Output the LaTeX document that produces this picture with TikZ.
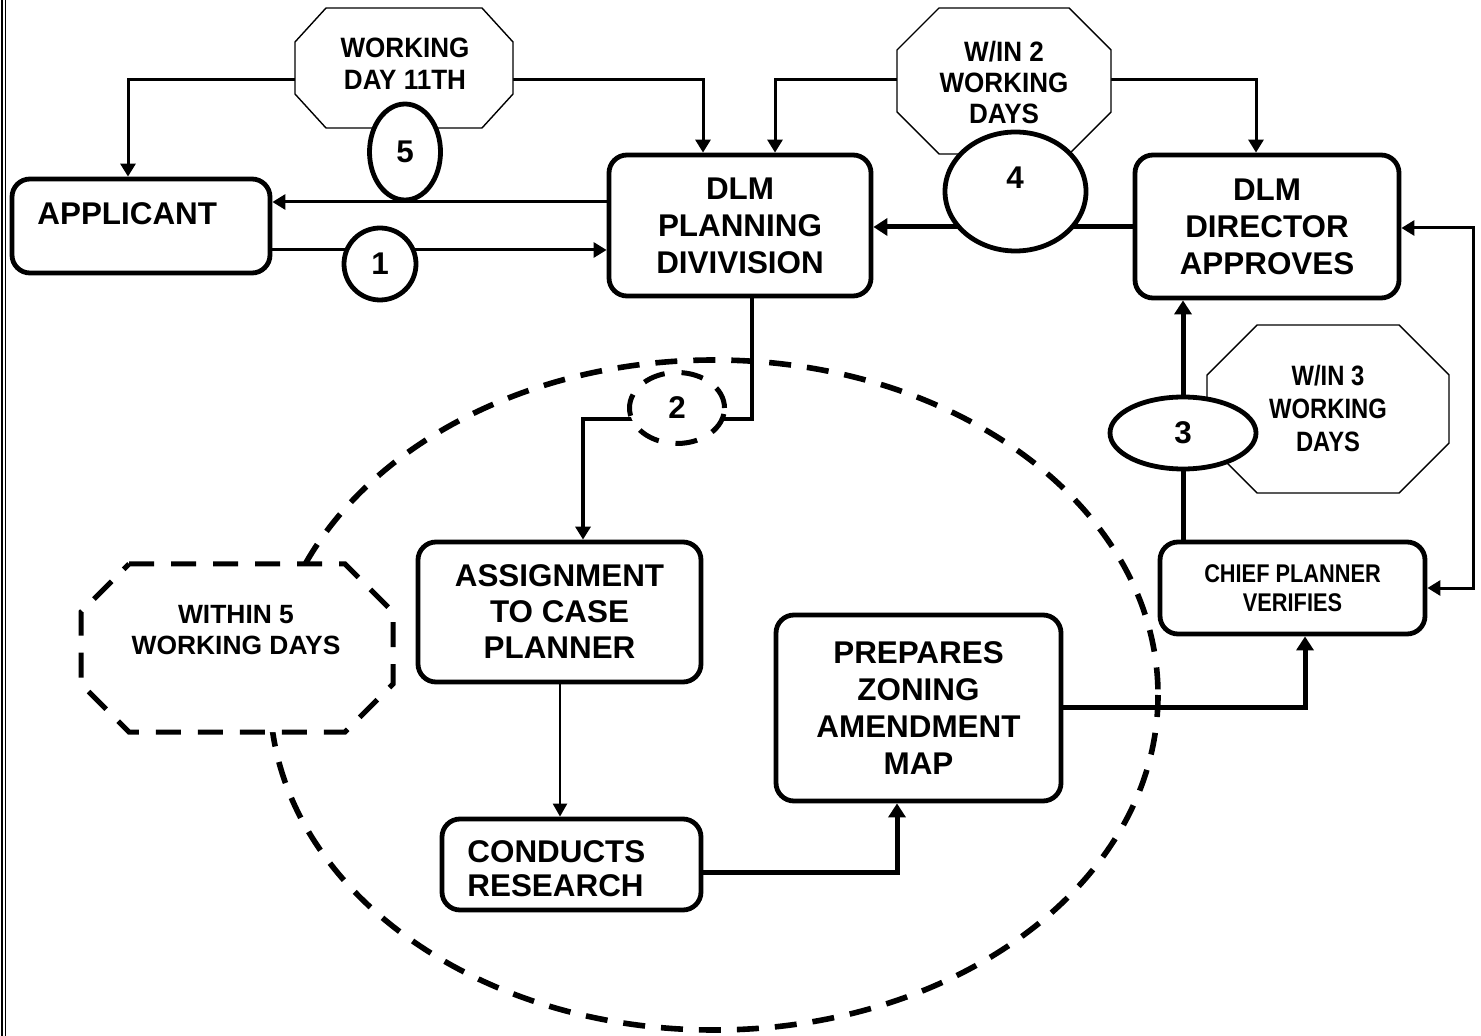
\documentclass[tikz,border=0pt]{standalone}
\usepackage{fontspec}
\setmainfont{Liberation Sans}
\newfontfamily\condA[FakeStretch=0.85]{Liberation Sans}
\newfontfamily\condB[FakeStretch=0.93]{Liberation Sans}
\usetikzlibrary{shapes.geometric,arrows.meta,backgrounds}
\begin{document}
\begin{tikzpicture}[x=0.5pt,y=-0.5pt,
  bigfont/.style={font=\bfseries\fontsize{15.7}{18.5}\selectfont},
  box/.style={draw, line width=2.4pt, rounded corners=9pt, fill=white, inner sep=0pt, align=center, bigfont},
  num/.style={draw, ellipse, line width=2.4pt, fill=white, inner sep=0pt, font=\bfseries\fontsize{15.7}{18}\selectfont},
  oct/.style={draw, line width=0.7pt, fill=white, line join=miter},
  octtext/.style={align=center, inner sep=0pt},
  conn/.style={line width=1.5pt, line join=miter, -{Triangle[length=6.5pt,width=7.5pt]}},
  connB/.style={line width=2.5pt, line join=miter, -{Triangle[length=7pt,width=8.5pt]}},
  connT/.style={line width=1.2pt, -{Triangle[length=6.5pt,width=7pt]}},
  bigdash/.style={line width=2.8pt, dash pattern=on 11pt off 8pt}
]
\useasboundingbox (0,0) rectangle (1481,1036);

% scan border lines at the left edge
\draw[line width=1.2pt] (2,0) -- (2,1036);
\draw[line width=0.5pt] (5.5,0) -- (5.5,1036);

% big dashed ellipse
\draw[bigdash] (714,695) ellipse [x radius=444, y radius=335];

% octagons
\draw[oct] (326,8) -- (482,8) -- (513,42) -- (513,94) -- (482,128) -- (326,128) -- (295,94) -- (295,42) -- cycle;
\draw[oct] (939,8) -- (1069,8) -- (1111,50) -- (1111,112) -- (1069,154) -- (939,154) -- (897,112) -- (897,50) -- cycle;
\draw[oct] (1257,325) -- (1399,325) -- (1449,375) -- (1449,443) -- (1399,493) -- (1257,493) -- (1207,443) -- (1207,375) -- cycle;
\draw[line width=2.5pt, dash pattern=on 12.5pt off 8.5pt, fill=white, line join=miter]
  (129,564) -- (345,564) -- (393,612) -- (393,684) -- (345,732) -- (129,732) -- (81,684) -- (81,612) -- cycle;

\coordinate (o1w) at (295,80);
\coordinate (o1e) at (513,80);
\coordinate (o2w) at (897,80);
\coordinate (o2e) at (1111,80);

\node[octtext, font=\condB\bfseries\fontsize{14}{16}\selectfont] (to1) at (405,64) {WORKING\\DAY 11TH};
\node[octtext, font=\condB\bfseries\fontsize{14}{15.5}\selectfont] (to2) at (1004,83) {W/IN 2\\WORKING\\DAYS};
\node[octtext, font=\condA\bfseries\fontsize{14}{16.5}\selectfont] (to3) at (1328,408.5) {W/IN 3\\WORKING\\DAYS};
\node[octtext, font=\bfseries\fontsize{13.2}{15.5}\selectfont] (to4) at (236,630) {WITHIN 5\\WORKING DAYS};

% boxes
\node[box, minimum width=129pt, minimum height=47pt] (applicant) at (141,226) {};
\node[bigfont, anchor=base west, inner sep=0pt] (tapplicant) at (37,225) {APPLICANT};
\node[box, minimum width=131pt, minimum height=70.5pt] (planning) at (740,225.5) {DLM\\PLANNING\\DIVIVISION};
\node[box, minimum width=132pt, minimum height=71.5pt] (director) at (1267,226.5) {DLM\\DIRECTOR\\APPROVES};
\node[box, minimum width=132.5pt, minimum height=46pt, font=\condA\bfseries\fontsize{12.8}{14.5}\selectfont] (chief) at (1292.5,588) {CHIEF PLANNER\\VERIFIES};
\node[box, minimum width=141.5pt, minimum height=70pt, font=\bfseries\fontsize{15.7}{18}\selectfont] (assignment) at (559.5,612) {ASSIGNMENT\\TO CASE\\PLANNER};
\node[box, minimum width=129.5pt, minimum height=45.5pt] (conducts) at (571.5,864.5) {};
\node[anchor=west, inner sep=0pt, align=left, font=\bfseries\fontsize{15.7}{17}\selectfont] (tconducts) at (467,868.5) {CONDUCTS\\RESEARCH};
\node[box, minimum width=142.5pt, minimum height=93pt] (prepares) at (918.5,708) {PREPARES\\ZONING\\AMENDMENT\\MAP};

% numbered ellipses
\node[num, minimum width=35.5pt, minimum height=48pt] (n5) at (405,152) {5};
\node[num, minimum width=36pt, minimum height=36pt] (n1) at (380,264) {1};
\node[num, minimum width=70.5pt, minimum height=59.5pt] (n4) at (1015.5,191.5) {};
\node[bigfont, inner sep=0pt] (t4) at (1015,178) {4};
\node[num, minimum width=73pt, minimum height=36pt] (n3) at (1183,433) {3};
\node[num, minimum width=47.5pt, minimum height=35.5pt, line width=2.5pt, dash pattern=on 11pt off 8.5pt] (n2) at (677,408) {2};

% connectors
\begin{pgfonlayer}{background}
\coordinate (b1) at (128,80);
\coordinate (b2) at (703,80);
\coordinate (b3) at (775,80);
\coordinate (b4) at (1256,80);
\coordinate (y202) at (0,202);
\coordinate (y250) at (0,250);
\coordinate (y227) at (0,227);
\coordinate (y228) at (0,228);
\coordinate (b6) at (1473,228);
\coordinate (b7) at (1473,588);
\coordinate (y707) at (0,707);
\coordinate (b8) at (1305,707);
\coordinate (y872) at (0,872);
\coordinate (b9) at (897,872);
\coordinate (b10) at (560,0);
\coordinate (b11) at (752,419);
\coordinate (b12) at (583,419);

\draw[conn] (o1w) -- (b1) -- (b1 |- applicant.north);
\draw[conn] (o1e) -- (b2) -- (b2 |- planning.north);
\draw[conn] (planning.west |- y202) -- (applicant.east |- y202);
\draw[conn] (applicant.east |- y250) -- (planning.west |- y250);
\draw[conn] (o2w) -- (b3) -- (b3 |- planning.north);
\draw[conn] (o2e) -- (b4) -- (b4 |- director.north);
\draw[connB] (director.west |- y227) -- (planning.east |- y227);
\draw[connB] (n3 |- chief.north) -- (n3 |- director.south);
\draw[line width=1.5pt, line join=miter, {Triangle[length=6.5pt,width=7.5pt]}-{Triangle[length=6.5pt,width=7.5pt]}]
  (director.east |- y228) -- (b6) -- (b7) -- (chief.east |- b7);
\draw[connB] (prepares.east |- y707) -- (b8) -- (b8 |- chief.south);
\draw[connB] (conducts.east |- y872) -- (b9) -- (b9 |- prepares.south);
\draw[connT] (b10 |- assignment.south) -- (b10 |- conducts.north);
\draw[conn, line width=1.8pt] (b11 |- planning.south) -- (b11) -- (b12) -- (b12 |- assignment.north);
\end{pgfonlayer}
\end{tikzpicture}
\end{document}
